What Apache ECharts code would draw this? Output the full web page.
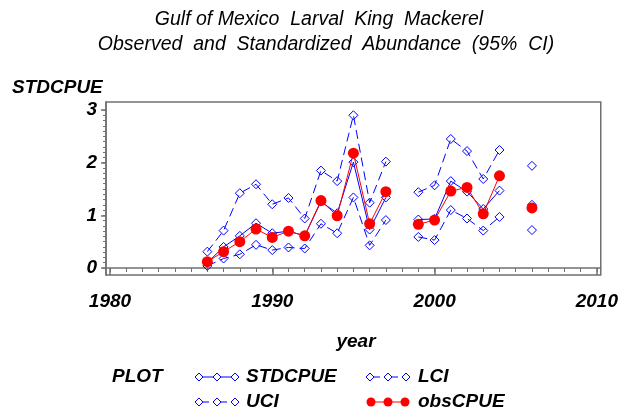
<!DOCTYPE html>
<html><head><meta charset="utf-8">
<script src="https://cdn.jsdelivr.net/npm/echarts@6/dist/echarts.min.js"></script>
<style>html,body{margin:0;padding:0;background:#fff}#c{width:621px;height:414px}</style>
</head><body><div id="c"></div>
<script>
const years = [1986,1987,1988,1989,1990,1991,1992,1993,1994,1995,1996,1997,1998,1999,2000,2001,2002,2003,2004,2005,2006];
const stdcpue = [0.10,0.40,0.61,0.85,0.66,0.70,0.61,1.26,1.04,2.01,0.73,1.34,null,0.92,0.93,1.65,1.45,1.12,1.47,null,1.20];
const lci = [0.04,0.18,0.26,0.44,0.34,0.39,0.37,0.84,0.66,1.34,0.43,0.91,null,0.59,0.53,1.10,0.94,0.71,0.97,null,0.72];
const uci = [0.31,0.71,1.42,1.59,1.21,1.33,0.94,1.85,1.65,2.90,1.24,2.02,null,1.44,1.57,2.45,2.22,1.69,2.24,null,1.94];
const obscpue = [0.12,0.31,0.50,0.74,0.58,0.70,0.61,1.28,0.99,2.18,0.84,1.45,null,0.83,0.91,1.46,1.53,1.03,1.75,null,1.14];
const xMajor = [1980,1990,2000,2010];
const yMajor = [0,1,2,3];
const xMinor = []; for (let y = 1980; y <= 2010; y++) xMinor.push(y);
const yMinor = []; for (let i = 0; i <= 30; i++) yMinor.push(i / 10);

const pair = arr => years.map((yr, i) => [yr, arr[i] == null ? '-' : arr[i]]);
const FONT = 'Liberation Sans';
const BLUE = '#0000ff';
const RED = '#ff0000';
const AX = '#707070';
const lbl = {fontFamily: FONT, fontWeight: 'bold', fontStyle: 'italic', fontSize: 19, color: '#000'};

const chart = echarts.init(document.getElementById('c'), null, {renderer: 'canvas'});

function diamond(cx, cy, r) {
  return {type: 'polygon', shape: {points: [[cx, cy - r], [cx + r, cy], [cx, cy + r], [cx - r, cy]]},
    style: {fill: '#fff', stroke: BLUE, lineWidth: 1}};
}
function legendBlue(x0, y, dashed) {
  const els = [{type: 'line', shape: {x1: x0, y1: y, x2: x0 + 36, y2: y},
    style: {stroke: BLUE, lineWidth: 1, lineDash: dashed ? [6, 12] : null, lineDashOffset: dashed ? -4 : 0}}];
  [0, 18, 36].forEach(d => els.push(diamond(x0 + d, y, 4)));
  return els;
}
function legendRed(x0, y) {
  const els = [{type: 'line', shape: {x1: x0, y1: y, x2: x0 + 34, y2: y}, style: {stroke: RED, lineWidth: 1}}];
  [0, 17, 34].forEach(d => els.push({type: 'circle', shape: {cx: x0 + d, cy: y, r: 4.5}, style: {fill: RED}}));
  return els;
}
function txt(x, y, s, align) {
  return {type: 'text', x: x, y: y, style: {text: s, fontFamily: FONT, fontWeight: 'bold', fontStyle: 'italic',
    fontSize: 19, fill: '#000', textAlign: align || 'left', textVerticalAlign: 'middle'}};
}
function ttl(x, y, s) {
  return {type: 'text', x: x, y: y, style: {text: s, fontFamily: FONT, fontWeight: 'normal', fontStyle: 'italic',
    fontSize: 19.5, fill: '#000', textAlign: 'center', textVerticalAlign: 'middle'}};
}
const blueItem = {color: 'rgba(255,255,255,0)', borderColor: BLUE, borderWidth: 1};

const option = {
  animation: false,
  grid: {left: 106, top: 102, width: 499, height: 173, show: true, borderColor: AX, borderWidth: 1.5, backgroundColor: 'transparent'},
  xAxis: [
    {type: 'value', min: 1979.756, max: 2010.24, position: 'bottom',
      axisLine: {show: true, lineStyle: {color: AX, width: 1.5}},
      axisTick: {show: true, length: 7, customValues: xMajor, lineStyle: {color: AX, width: 1.5}},
      axisLabel: {customValues: xMajor, margin: 17, formatter: v => String(Math.round(v)), ...lbl},
      splitLine: {show: false}},
    {type: 'value', min: 1979.756, max: 2010.24, position: 'bottom',
      axisLine: {show: false},
      axisTick: {show: true, length: 4, customValues: xMinor, lineStyle: {color: AX, width: 1}},
      axisLabel: {show: false}, splitLine: {show: false}}
  ],
  yAxis: [
    {type: 'value', min: -0.133, max: 3.152, position: 'left',
      axisLine: {show: true, lineStyle: {color: AX, width: 1.5}},
      axisTick: {show: true, length: 5, customValues: yMajor, lineStyle: {color: AX, width: 1.5}},
      axisLabel: {customValues: yMajor, margin: 9, formatter: v => String(Math.round(v)), ...lbl},
      splitLine: {show: false}},
    {type: 'value', min: -0.133, max: 3.152, position: 'left',
      axisLine: {show: false},
      axisTick: {show: true, length: 3, customValues: yMinor, lineStyle: {color: AX, width: 1}},
      axisLabel: {show: false}, splitLine: {show: false}}
  ],
  series: [
    {name: 'STDCPUE', type: 'line', data: pair(stdcpue), symbol: 'diamond', symbolSize: 9,
      lineStyle: {color: BLUE, width: 1}, itemStyle: blueItem, connectNulls: false, z: 3},
    {name: 'LCI', type: 'line', data: pair(lci), symbol: 'diamond', symbolSize: 9,
      lineStyle: {color: BLUE, width: 1, type: [9, 5]}, itemStyle: blueItem, connectNulls: false, z: 3},
    {name: 'UCI', type: 'line', data: pair(uci), symbol: 'diamond', symbolSize: 9,
      lineStyle: {color: BLUE, width: 1, type: [9, 5]}, itemStyle: blueItem, connectNulls: false, z: 3},
    {name: 'obsCPUE', type: 'line', data: pair(obscpue), symbol: 'circle', symbolSize: 11,
      lineStyle: {color: RED, width: 1}, itemStyle: {color: RED}, connectNulls: false, z: 4}
  ],
  graphic: [
    ttl(319, 20, 'Gulf of Mexico  Larval  King  Mackerel'),
    ttl(326, 45, 'Observed  and  Standardized  Abundance  (95%  CI)'),
    txt(12, 88, 'STDCPUE'),
    txt(356, 342, 'year', 'center'),
    txt(112, 377, 'PLOT'),
    ...legendBlue(199, 377, false), txt(246, 377, 'STDCPUE'),
    ...legendBlue(370, 377, true), txt(418, 377, 'LCI'),
    ...legendBlue(199, 402, true), txt(246, 402, 'UCI'),
    ...legendRed(371, 402), txt(418, 402, 'obsCPUE')
  ]
};
chart.setOption(option);
</script>
</body></html>
